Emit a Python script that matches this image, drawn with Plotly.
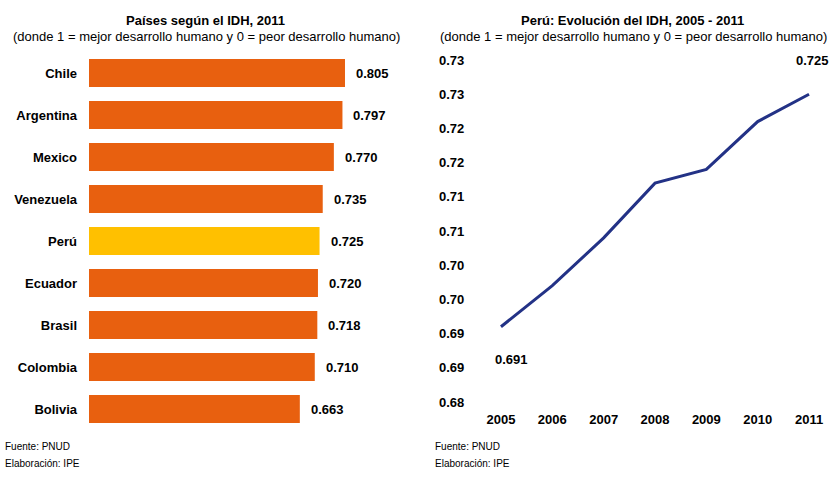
import plotly.graph_objects as go

# ---- data ----
countries = ["Chile", "Argentina", "Mexico", "Venezuela", "Perú", "Ecuador", "Brasil", "Colombia", "Bolivia"]
idh_2011 = [0.805, 0.797, 0.770, 0.735, 0.725, 0.720, 0.718, 0.710, 0.663]
highlight = "Perú"

years = ["2005", "2006", "2007", "2008", "2009", "2010", "2011"]
peru_idh = [0.691, 0.697, 0.704, 0.712, 0.714, 0.721, 0.725]

y_tickvals = [0.680, 0.685, 0.690, 0.695, 0.700, 0.705, 0.710, 0.715, 0.720, 0.725, 0.730]
y_ticktext = ["0.68", "0.69", "0.69", "0.70", "0.70", "0.71", "0.71", "0.72", "0.72", "0.73", "0.73"]

W, H = 840, 483
FONT = "Liberation Sans, Arial, sans-serif"
ORANGE = "#E8600F"
GOLD = "#FFC000"
NAVY = "#233286"

def px(x):
    return x / W

def py(y):
    return 1 - y / H

bar_colors = [GOLD if c == highlight else ORANGE for c in countries]

fig = go.Figure()
fig.add_trace(go.Bar(
    x=idh_2011, y=countries, orientation="h",
    marker=dict(color=bar_colors, line=dict(width=0)),
    xaxis="x", yaxis="y", showlegend=False, hoverinfo="x+y",
))
fig.add_trace(go.Scatter(
    x=years, y=peru_idh, mode="lines",
    line=dict(color=NAVY, width=3),
    xaxis="x2", yaxis="y2", showlegend=False,
))

annotations = []
for c, v in zip(countries, idh_2011):
    annotations.append(dict(
        x=v, y=c, xref="x", yref="y", text=f"{v:.3f}", showarrow=False,
        xanchor="left", yanchor="middle", xshift=9,
        font=dict(family=FONT, size=13, color="#000000", weight="bold"),
    ))
# first and last labels of the line (category axis -> use category index)
annotations.append(dict(
    x=0, y=peru_idh[0], xref="x2", yref="y2", text=f"{peru_idh[0]:.3f}",
    showarrow=False, xanchor="center", yanchor="middle", xshift=11, yshift=-33,
    font=dict(family=FONT, size=13, color="#000000", weight="bold"),
))
annotations.append(dict(
    x=len(years) - 1, y=peru_idh[-1], xref="x2", yref="y2", text=f"{peru_idh[-1]:.3f}",
    showarrow=False, xanchor="center", yanchor="middle", xshift=3, yshift=34,
    font=dict(family=FONT, size=13, color="#000000", weight="bold"),
))

def txt(x, y, text, size, bold=False, xanchor="center"):
    return dict(
        x=px(x), y=py(y), xref="paper", yref="paper", text=text, showarrow=False,
        xanchor=xanchor, yanchor="middle",
        font=dict(family=FONT, size=size, color="#000000", weight="bold" if bold else "normal"),
    )

annotations += [
    txt(205, 20, "Países según el IDH, 2011", 13, True),
    txt(206, 36, "(donde 1 = mejor desarrollo humano y 0 = peor desarrollo humano)", 13),
    txt(632, 20, "Perú: Evolución del IDH, 2005 - 2011", 13, True),
    txt(633, 37, "(donde 1 = mejor desarrollo humano y 0 = peor desarrollo humano)", 13),
    txt(3, 446, "Fuente: PNUD", 10, xanchor="left"),
    txt(3, 463, "Elaboración: IPE", 10, xanchor="left"),
    txt(433, 446, "Fuente: PNUD", 10, xanchor="left"),
    txt(433, 463, "Elaboración: IPE", 10, xanchor="left"),
]

fig.update_layout(
    width=W, height=H,
    margin=dict(l=0, r=0, t=0, b=0),
    paper_bgcolor="white", plot_bgcolor="white",
    font=dict(family=FONT, size=13, color="#000000"),
    bargap=1/3,
    xaxis=dict(domain=[px(89), px(407)], range=[0, 1], visible=False, showgrid=False, zeroline=False, fixedrange=True),
    yaxis=dict(domain=[py(430), py(52)], type="category", categoryorder="array", categoryarray=countries,
               autorange="reversed", showgrid=False, zeroline=False, showline=False, ticks="",
               automargin=False,
               ticklabelstandoff=11, tickfont=dict(family=FONT, size=13, color="#000000", weight="bold")),
    xaxis2=dict(domain=[px(475.3), px(834.7)], type="category", range=[-0.5, 6.5], anchor="y2",
                automargin=False,
                showgrid=False, zeroline=False, showline=False, ticks="", ticklabelstandoff=8,
                tickfont=dict(family=FONT, size=13, color="#000000", weight="bold")),
    yaxis2=dict(domain=[py(402), py(60)], range=[0.68, 0.73], anchor="x2",
                tickvals=y_tickvals, ticktext=y_ticktext, automargin=False,
                showgrid=False, zeroline=False, showline=False, ticks="", ticklabelstandoff=10,
                tickfont=dict(family=FONT, size=13, color="#000000", weight="bold")),
    annotations=annotations,
)

fig.write_html(
    "out.html",
    config={"displayModeBar": False},
    post_script="document.body.style.margin='0';document.body.style.overflow='hidden';",
)
